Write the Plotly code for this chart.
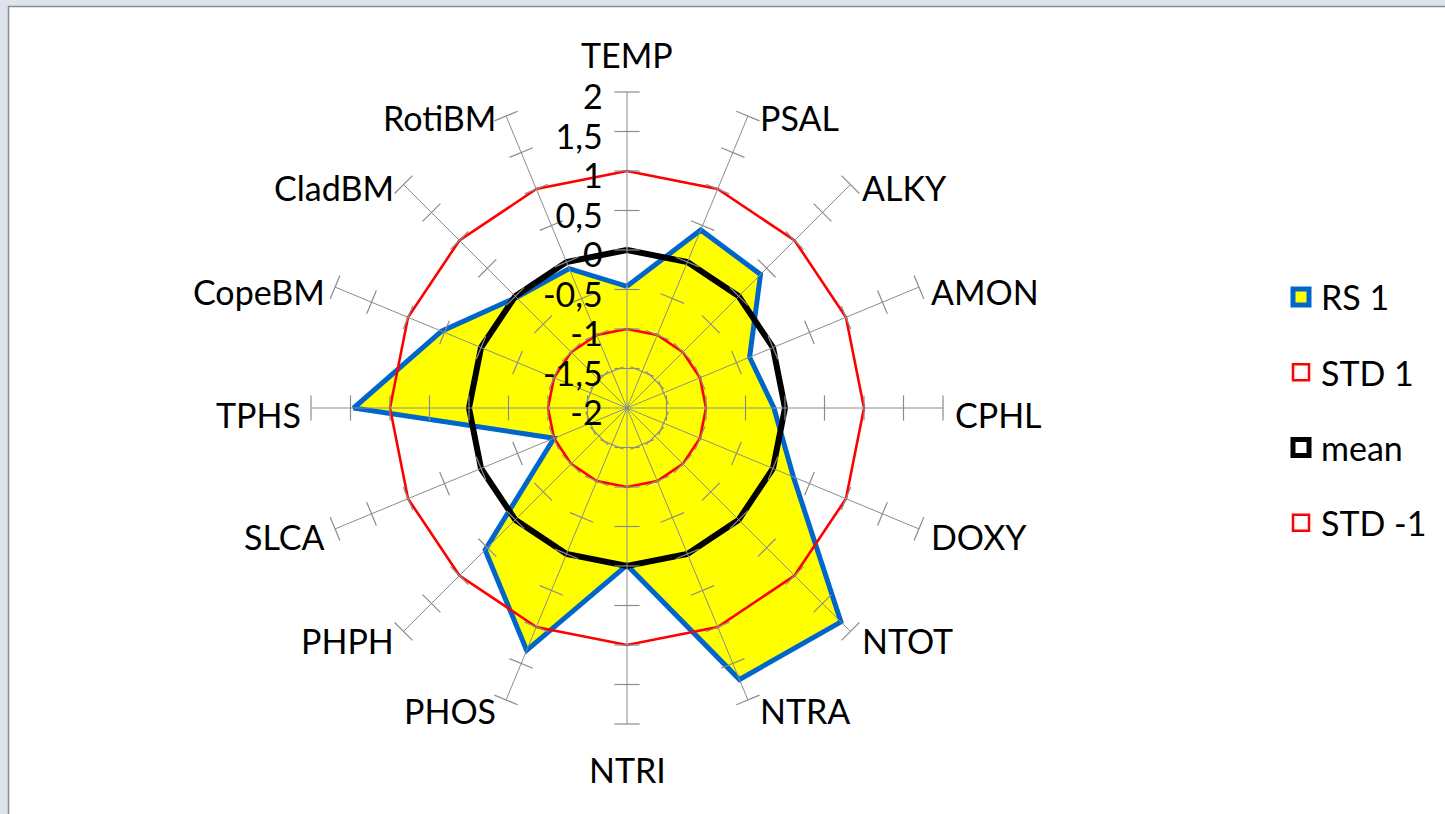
import math
import plotly.graph_objects as go

categories = ["TEMP", "PSAL", "ALKY", "AMON", "CPHL", "DOXY", "NTOT", "NTRA",
              "NTRI", "PHOS", "PHPH", "SLCA", "TPHS", "CopeBM", "CladBM", "RotiBM"]
rs1 = [-0.46, 0.44, 0.39, -0.32, -0.14, 0.28, 1.83, 1.72,
       -0.01, 1.32, 0.54, -1.0, 1.46, 0.54, -0.02, -0.09]
std_plus = [1] * 16
mean_vals = [0] * 16
std_minus = [-1] * 16
tick_values = [-2, -1.5, -1, -0.5, 0, 0.5, 1, 1.5, 2]
tick_labels = ["-2", "-1,5", "-1", "-0,5", "0", "0,5", "1", "1,5", "2"]

FONT = "Lato"
W, H = 1445, 814
cx, cy, R = 627, 408, 316

def closed(vals):
    return list(vals) + [vals[0]]

theta_c = closed(categories)
fig = go.Figure()

# RS 1 filled polygon
fig.add_trace(go.Scatterpolar(r=closed(rs1), theta=theta_c, mode="lines", fill="toself",
                              fillcolor="#FFFF00", line=dict(color="#0066CC", width=5),
                              showlegend=False, hoverinfo="skip"))
# reference rings
fig.add_trace(go.Scatterpolar(r=closed(std_plus), theta=theta_c, mode="lines",
                              line=dict(color="#FF0000", width=2.6), showlegend=False))
fig.add_trace(go.Scatterpolar(r=closed(mean_vals), theta=theta_c, mode="lines",
                              line=dict(color="#000000", width=6), showlegend=False))
fig.add_trace(go.Scatterpolar(r=closed(std_minus), theta=theta_c, mode="lines",
                              line=dict(color="#FF0000", width=2.6), showlegend=False))

# spokes (axis lines) drawn over the fill
sp_r, sp_t = [], []
for c in categories:
    sp_r += [tick_values[0], tick_values[-1], None]
    sp_t += [c, c, c]
fig.add_trace(go.Scatterpolar(r=sp_r, theta=sp_t, mode="lines",
                              line=dict(color="#8C8C8C", width=1), showlegend=False,
                              hoverinfo="skip"))
# tick marks on each spoke
n = len(categories)
step = 360 / n
tk_r, tk_t, tk_a = [], [], []
for i, c in enumerate(categories):
    for v in tick_values[1:]:
        tk_r.append(v)
        tk_t.append(c)
        tk_a.append(i * step)
fig.add_trace(go.Scatterpolar(r=tk_r, theta=tk_t, mode="markers",
                              marker=dict(symbol="line-ew", size=18, angle=tk_a,
                                          line=dict(color="#8C8C8C", width=1.2)),
                              showlegend=False, hoverinfo="skip"))

# category labels placed just outside each spoke end (Excel style)
annotations = []
for i, c in enumerate(categories):
    a = math.radians(i * step)
    ex = cx + R * math.sin(a)
    ey = cy - R * math.cos(a)
    if i == 0:
        x, y, xa, ya = ex, ey - 16, "center", "bottom"
    elif i == n // 2:
        x, y, xa, ya = ex, ey + 24, "center", "top"
    elif i < n // 2:
        x, y, xa, ya = ex + 11, ey + 6 - 5 * math.cos(a), "left", "middle"
    else:
        x, y, xa, ya = ex - 9, ey + 6 - 5 * math.cos(a), "right", "middle"
    annotations.append(dict(text=c, x=x / W, y=1 - y / H, xref="paper", yref="paper",
                            xanchor=xa, yanchor=ya, showarrow=False, borderpad=0,
                            font=dict(family=FONT, size=34, color="#000000")))

# legend entries
legend_items = [("RS 1", "#FFFF00", "#0066CC", 5),
                ("STD 1", "#FFFFFF", "#FF0000", 2.5),
                ("mean", "#FFFFFF", "#000000", 5.5),
                ("STD -1", "#FFFFFF", "#FF0000", 2.5)]
for name, fc, lc, lw in legend_items:
    fig.add_trace(go.Scatterpolar(r=[None], theta=[categories[0]], mode="markers", name=name,
                                  legendgroup=name,
                                  marker=dict(symbol="square", size=23, color=fc,
                                              line=dict(color=lc, width=lw))))

fig.update_layout(
    width=W, height=H, autosize=False,
    margin=dict(l=0, r=0, t=0, b=0),
    paper_bgcolor="#DFE3EB",
    font=dict(family=FONT, color="#000000", size=34),
    polar=dict(
        domain=dict(x=[(cx - R) / W, (cx + R) / W], y=[(H - cy - R) / H, (H - cy + R) / H]),
        bgcolor="rgba(0,0,0,0)",
        angularaxis=dict(direction="clockwise", rotation=90, showgrid=False, showline=False,
                         ticks="", showticklabels=False),
        radialaxis=dict(range=[-2, 2], angle=90, side="counterclockwise", showgrid=False,
                        showline=False, ticks="", tickvals=tick_values, ticktext=tick_labels,
                        tickfont=dict(size=34, family=FONT), layer="above traces"),
    ),
    legend=dict(x=1281 / W, y=1 - 410 / H, xanchor="left", yanchor="middle",
                font=dict(size=34, family=FONT), traceorder="grouped", tracegroupgap=28,
                bgcolor="rgba(0,0,0,0)", itemsizing="trace"),
    annotations=annotations,
    shapes=[dict(type="rect", xref="paper", yref="paper", layer="below",
                 x0=8.5 / W, x1=1.02, y0=-0.02, y1=1 - 6.5 / H,
                 fillcolor="#FFFFFF", line=dict(color="#8C8C8C", width=1.5))],
)

fig.write_html("out.html", config={"displayModeBar": False},
               post_script="document.body.style.margin='0px';")
